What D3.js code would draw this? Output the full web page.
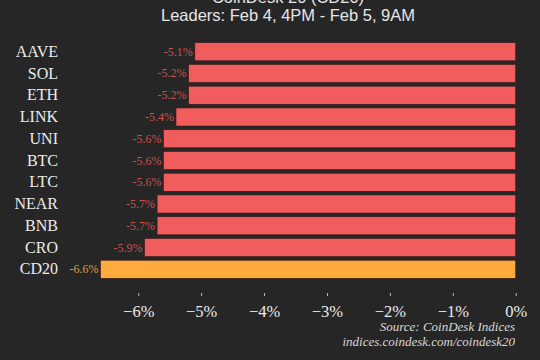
<!DOCTYPE html>
<html>
<head>
<meta charset="utf-8">
<script src="https://cdn.jsdelivr.net/npm/d3@7"></script>
<style>
  html, body { margin: 0; padding: 0; background: #262626; }
  svg { display: block; }
</style>
</head>
<body>
<div id="chart"></div>
<script>
// Data
const coins = ["AAVE", "SOL", "ETH", "LINK", "UNI", "BTC", "LTC", "NEAR", "BNB", "CRO", "CD20"];
const changes = [-5.1, -5.2, -5.2, -5.4, -5.6, -5.6, -5.6, -5.7, -5.7, -5.9, -6.6];
const xTicks = [-6, -5, -4, -3, -2, -1, 0];
const titleLines = ["CoinDesk 20 (CD20)", "Leaders: Feb 4, 4PM - Feb 5, 9AM"];
const sourceLines = ["Source: CoinDesk Indices", "indices.coindesk.com/coindesk20"];

const data = coins.map((c, i) => ({coin: c, value: changes[i]}));

const W = 540, H = 360;
const margin = {top: 39, right: 24, bottom: 78, left: 100};

const svg = d3.select("#chart")
  .append("svg")
  .attr("width", W)
  .attr("height", H);

svg.append("rect")
  .attr("width", W)
  .attr("height", H)
  .attr("fill", "#262626");

// Scales
const x = d3.scaleLinear()
  .domain([-6.6, 0])
  .range([margin.left + 0.5, 515.7]);
const y = d3.scaleBand()
  .domain(coins)
  .range([margin.top, H - margin.bottom])
  .padding(0.17);

// Title
svg.selectAll("text.title")
  .data(titleLines)
  .join("text")
  .attr("class", "title")
  .attr("x", 288)
  .attr("y", (d, i) => 3 + i * 18)
  .attr("text-anchor", "middle")
  .attr("font-family", "Helvetica, Arial, 'Liberation Sans', sans-serif")
  .attr("font-size", "16.5px")
  .attr("fill", "#e6e6e6")
  .text(d => d);

// Bars
svg.selectAll("rect.bar")
  .data(data)
  .join("rect")
  .attr("class", "bar")
  .attr("x", d => x(d.value))
  .attr("y", d => y(d.coin))
  .attr("width", d => x(0) - x(d.value))
  .attr("height", y.bandwidth())
  .attr("fill", d => d.coin === "CD20" ? "#fdaa3f" : "#f15d5d")
  .attr("stroke", "#3a1a1a")
  .attr("stroke-width", 0.6);

// Value labels
svg.selectAll("text.value")
  .data(data)
  .join("text")
  .attr("class", "value")
  .attr("x", d => x(d.value) - 2)
  .attr("y", d => y(d.coin) + y.bandwidth() / 2 + 4)
  .attr("text-anchor", "end")
  .attr("font-family", "'Liberation Serif', serif")
  .attr("font-size", "12px")
  .attr("fill", d => d.coin === "CD20" ? "#d9a440" : "#c9514e")
  .text(d => d.value.toFixed(1) + "%");

// Category axis
const yAxis = svg.append("g")
  .attr("transform", `translate(${margin.left},0)`)
  .call(d3.axisLeft(y).tickSize(0).tickPadding(42));
yAxis.select(".domain").remove();
yAxis.selectAll("text")
  .attr("font-family", "'Liberation Serif', serif")
  .attr("font-size", "16px")
  .attr("fill", "#ececec");

// Value axis
const xAxis = svg.append("g")
  .attr("transform", "translate(0,293)")
  .call(d3.axisBottom(x)
    .tickValues(xTicks)
    .tickSize(3)
    .tickPadding(9)
    .tickFormat(d => (d < 0 ? "\u2212" + Math.abs(d) : d) + "%"));
xAxis.select(".domain").remove();
xAxis.selectAll("line").attr("stroke", "#bbbbbb");
xAxis.selectAll("text")
  .attr("font-family", "'Liberation Serif', serif")
  .attr("font-size", "16.5px")
  .attr("fill", "#ececec");

// Source
svg.selectAll("text.source")
  .data(sourceLines)
  .join("text")
  .attr("class", "source")
  .attr("x", 515)
  .attr("y", (d, i) => 331 + i * 15)
  .attr("text-anchor", "end")
  .attr("font-family", "'Liberation Serif', serif")
  .attr("font-style", "italic")
  .attr("font-size", "13px")
  .attr("fill", "#d8d8d8")
  .text(d => d);
</script>
</body>
</html>
